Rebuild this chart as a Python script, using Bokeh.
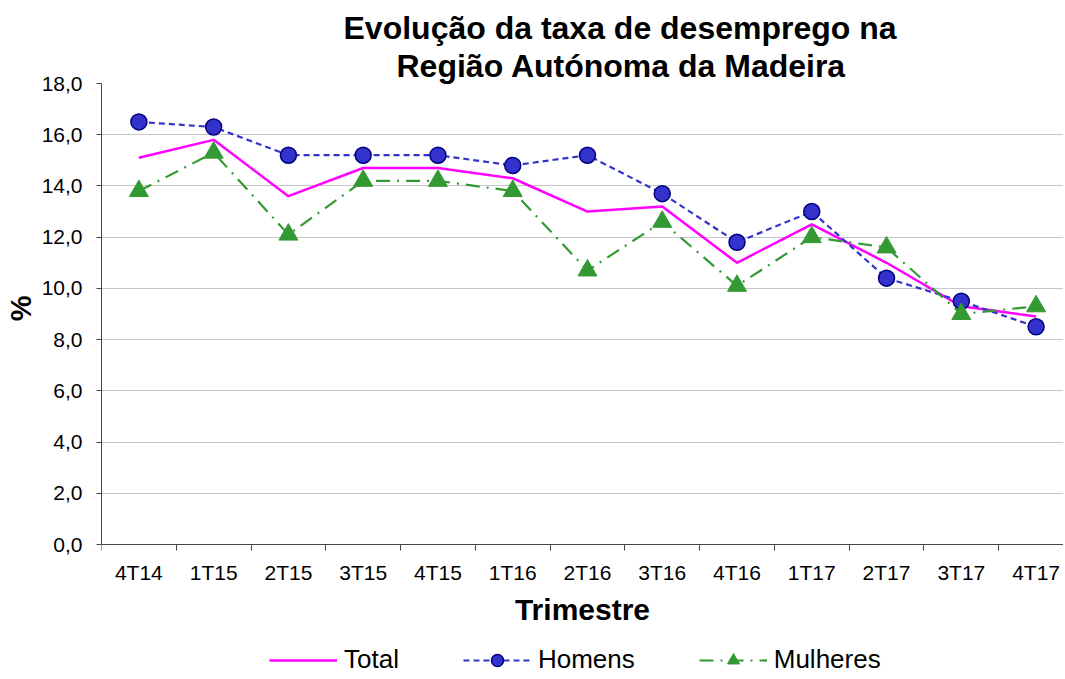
from bokeh.plotting import figure
from bokeh.models import (Range1d, FixedTicker, Legend, LegendItem, Title)
from bokeh.embed import file_html
from bokeh.resources import INLINE

# ---- data ----
categories = ["4T14", "1T15", "2T15", "3T15", "4T15", "1T16", "2T16",
              "3T16", "4T16", "1T17", "2T17", "3T17", "4T17"]
total = [15.1, 15.8, 13.6, 14.7, 14.7, 14.3, 13.0, 13.2, 11.0, 12.5, 11.0, 9.3, 8.9]
homens = [16.5, 16.3, 15.2, 15.2, 15.2, 14.8, 15.2, 13.7, 11.8, 13.0, 10.4, 9.5, 8.5]
mulheres = [13.8, 15.3, 12.1, 14.2, 14.2, 13.8, 10.7, 12.6, 10.1, 12.0, 11.6, 9.0, 9.3]
y_ticks = [0, 2, 4, 6, 8, 10, 12, 14, 16, 18]
title_lines = ["Evolução da taxa de desemprego na", "Região Autónoma da Madeira"]

FONT = "Liberation Sans"
xs = list(range(len(categories)))

W, H = 1063, 677
LEFT, TOP = 98, 83
PX_PER_UNIT = 461 / 18.0        # 18 units span 461 px in the reference
PX_PER_CAT = 75.0
frame_h = H - TOP
y_min = 18 - frame_h / PX_PER_UNIT
x_max = -0.5 + (W - LEFT) / PX_PER_CAT

p = figure(width=W, height=H, output_backend="svg", toolbar_location=None,
           x_range=Range1d(-0.5, x_max), y_range=Range1d(y_min, 18),
           min_border_left=LEFT, min_border_right=0, min_border_top=TOP,
           min_border_bottom=0)
p.outline_line_color = None
p.background_fill_color = "white"
p.border_fill_color = "white"

# axes
axis_color = "#444444"
xa = p.xaxis[0]
xa.fixed_location = 0
xa.ticker = FixedTicker(ticks=xs, minor_ticks=[i - 0.5 for i in range(len(categories) + 1)])
xa.major_label_overrides = {i: c for i, c in enumerate(categories)}
xa.major_tick_line_color = None
xa.minor_tick_in = 0
xa.minor_tick_out = 6
xa.minor_tick_line_color = axis_color
xa.axis_line_color = axis_color
xa.major_label_text_font = FONT
xa.major_label_text_font_size = "21px"
xa.major_label_text_color = "black"
xa.major_label_standoff = 10
xa.axis_label = "Trimestre"
xa.axis_label_text_font = FONT
xa.axis_label_text_font_size = "30px"
xa.axis_label_text_font_style = "bold"
xa.axis_label_text_color = "black"
xa.axis_label_standoff = 6

ya = p.yaxis[0]
ya.bounds = (0, 18)
ya.ticker = FixedTicker(ticks=y_ticks, minor_ticks=[])
ya.major_label_overrides = {t: f"{t},0" for t in y_ticks}
ya.major_tick_in = 0
ya.major_tick_out = 5
ya.major_tick_line_color = axis_color
ya.axis_line_color = axis_color
ya.major_label_text_font = FONT
ya.major_label_text_font_size = "21px"
ya.major_label_text_color = "black"
ya.major_label_standoff = 14

# y-axis title "%" placed next to the 0..18 span
p.add_layout(Title(text="%", align="right", offset=212, standoff=4,
                   text_font=FONT, text_font_size="29px", text_font_style="bold",
                   text_color="black"), "left")

p.xgrid.grid_line_color = None
p.ygrid.grid_line_color = "#8c8c8c"
p.ygrid.grid_line_dash = "1 1"
p.ygrid.grid_line_width = 1

# series
r_total = p.line(xs, total, line_color="#FF00FF", line_width=2.5)
r_h_line = p.line(xs, homens, line_color="#3333CC", line_width=2.2, line_dash="6 4")
r_h_pts = p.scatter(xs, homens, marker="circle", size=16, fill_color="#3333CC",
                    line_color="#000080", line_width=1.5)
r_m_line = p.line(xs, mulheres, line_color="#339933", line_width=2.2, line_dash="14 7 2 7")
r_m_pts = p.scatter(xs, mulheres, marker="triangle", size=19, fill_color="#339933",
                    line_color="#339933", line_width=1)

legend = Legend(items=[
    LegendItem(label="Total", renderers=[r_total]),
    LegendItem(label="Homens", renderers=[r_h_line, r_h_pts]),
    LegendItem(label="Mulheres", renderers=[r_m_line, r_m_pts]),
], location=(168, 2), orientation="horizontal", glyph_width=68, glyph_height=30,
    label_standoff=7, spacing=64, padding=0, margin=0,
    border_line_color=None, background_fill_alpha=0,
    label_text_font=FONT, label_text_font_size="26px", label_text_color="black")
p.add_layout(legend)

# title (two lines): second line added first (closest to the frame)
for line_text, off in [(title_lines[1], 295), (title_lines[0], 242)]:
    p.add_layout(Title(text=line_text, align="left", offset=off, standoff=0,
                       text_font=FONT, text_font_size="32px", text_font_style="bold",
                       text_color="black"), "above")

open("out.html", "w").write(file_html(p, INLINE))
